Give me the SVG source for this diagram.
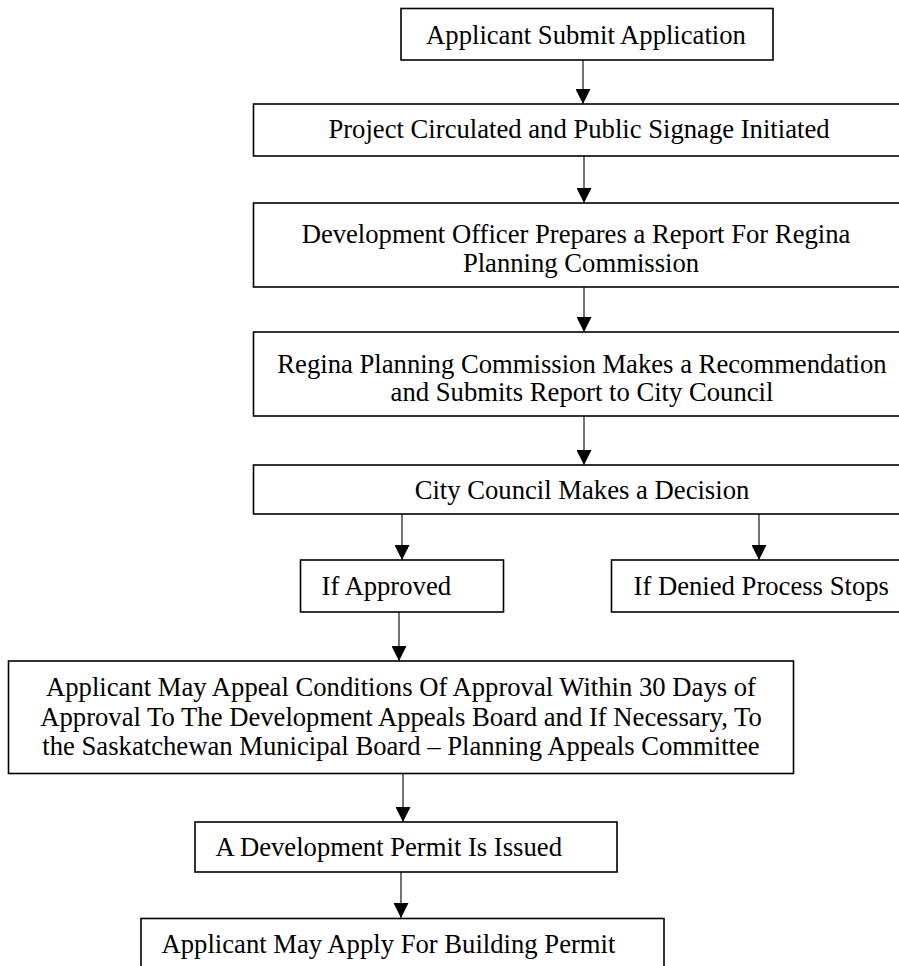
<svg xmlns="http://www.w3.org/2000/svg" width="899" height="966" viewBox="0 0 899 966">
<style>
.box{fill:#fff;stroke:#000;stroke-width:1.6}
.t{font-family:"Liberation Serif","Times New Roman",serif;font-size:26.67px;fill:#000}
.c{text-anchor:middle}
.con line{stroke:#000;stroke-width:1.1}
</style>
<defs>
<marker id="ah" viewBox="0 0 10 10" refX="10" refY="5" markerWidth="15" markerHeight="15" markerUnits="userSpaceOnUse" orient="auto">
<path d="M0,0 L10,5 L0,10 z" fill="#000"/>
</marker>
</defs>
<rect width="899" height="966" fill="#fff"/>
<g id="connectors" class="con">
<line x1="583" y1="60" x2="583" y2="104" marker-end="url(#ah)"/>
<line x1="584" y1="156" x2="584" y2="203" marker-end="url(#ah)"/>
<line x1="584" y1="287" x2="584" y2="332" marker-end="url(#ah)"/>
<line x1="584" y1="416" x2="584" y2="465" marker-end="url(#ah)"/>
<line x1="402" y1="514" x2="402" y2="560" marker-end="url(#ah)"/>
<line x1="759" y1="514" x2="759" y2="560" marker-end="url(#ah)"/>
<line x1="399" y1="612" x2="399" y2="661" marker-end="url(#ah)"/>
<line x1="403" y1="773" x2="403" y2="822" marker-end="url(#ah)"/>
<line x1="401" y1="872" x2="401" y2="918" marker-end="url(#ah)"/>
</g>
<g id="n1">
<rect class="box" x="401" y="8.5" width="372" height="51.5"/>
<text class="t c" x="586" y="44">Applicant Submit Application</text>
</g>
<g id="n2">
<rect class="box" x="253.5" y="104" width="660" height="52"/>
<text class="t c" x="579" y="138">Project Circulated and Public Signage Initiated</text>
</g>
<g id="n3">
<rect class="box" x="253.5" y="203" width="660" height="84"/>
<text class="t c" x="576" y="243">Development Officer Prepares a Report For Regina</text>
<text class="t c" x="581" y="272">Planning Commission</text>
</g>
<g id="n4">
<rect class="box" x="253.5" y="332" width="660" height="84"/>
<text class="t c" x="582" y="373">Regina Planning Commission Makes a Recommendation</text>
<text class="t c" x="582" y="401">and Submits Report to City Council</text>
</g>
<g id="n5">
<rect class="box" x="253.5" y="465" width="660" height="49"/>
<text class="t c" x="582" y="499">City Council Makes a Decision</text>
</g>
<g id="n6">
<rect class="box" x="300.5" y="560" width="203" height="52"/>
<text class="t" x="321.5" y="595">If Approved</text>
</g>
<g id="n7">
<rect class="box" x="611.5" y="560" width="300" height="52"/>
<text class="t" x="633.5" y="595">If Denied Process Stops</text>
</g>
<g id="n8">
<rect class="box" x="8.5" y="661" width="785" height="112.5"/>
<text class="t c" x="401" y="696">Applicant May Appeal Conditions Of Approval Within 30 Days of</text>
<text class="t c" x="401" y="726">Approval To The Development Appeals Board and If Necessary, To</text>
<text class="t c" x="401" y="755">the Saskatchewan Municipal Board – Planning Appeals Committee</text>
</g>
<g id="n9">
<rect class="box" x="195" y="822" width="422" height="50"/>
<text class="t" x="215.5" y="856">A Development Permit Is Issued</text>
</g>
<g id="n10">
<rect class="box" x="141" y="918.5" width="523" height="60"/>
<text class="t" x="161.5" y="953">Applicant May Apply For Building Permit</text>
</g>
</svg>
